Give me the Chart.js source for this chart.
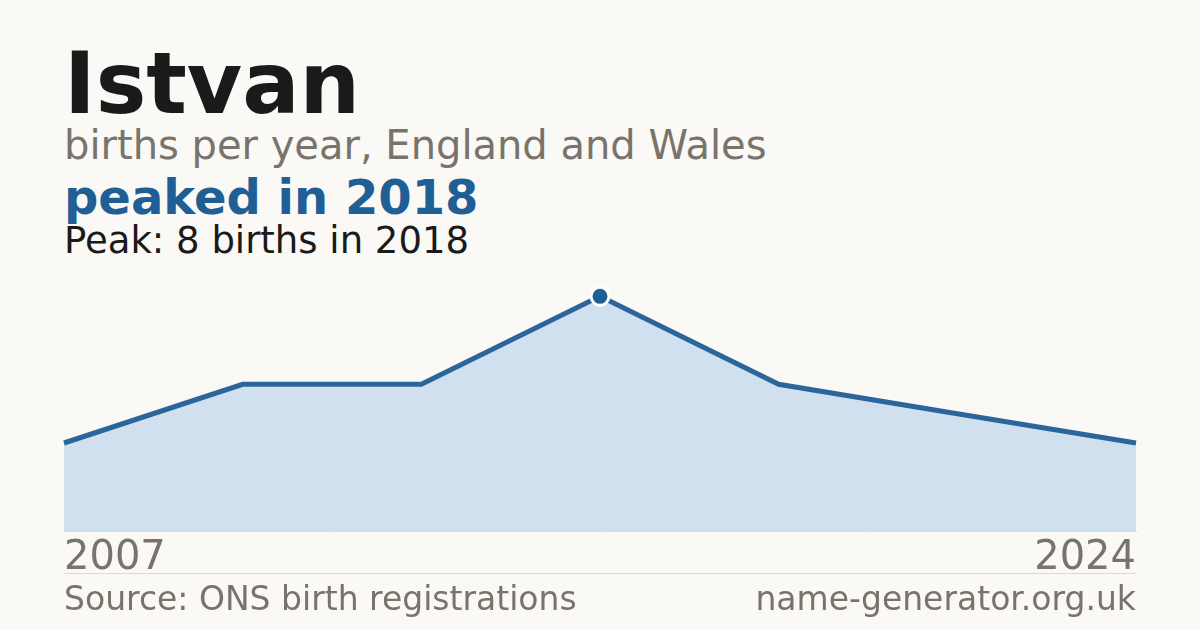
<!DOCTYPE html>
<html>
<head>
<meta charset="utf-8">
<script src="https://cdn.jsdelivr.net/npm/chart.js@4"></script>
<style>
  html, body { margin: 0; padding: 0; }
  body { width: 1200px; height: 630px; background: #faf9f5; position: relative; overflow: hidden; font-family: "DejaVu Sans", sans-serif; }
  .txt { position: absolute; left: 64px; line-height: 1; white-space: nowrap; }
  #title { top: 41px; font-size: 85px; font-weight: bold; color: #1a1a1a; }
  #sub { top: 125px; font-size: 40px; color: #78746c; }
  #peaked { top: 173px; font-size: 48px; font-weight: bold; color: #1f5f96; }
  #note { top: 222px; font-size: 37px; color: #1a1a1a; }
  #rule { position: absolute; left: 64px; top: 573px; width: 1072px; height: 1px; background: #dcdad4; }
  .foot { top: 582px; font-size: 33px; color: #78746c; }
  #site { left: auto; right: 64px; }
  #chart { position: absolute; left: 0; top: 0; }
</style>
</head>
<body>
<div class="txt" id="title">Istvan</div>
<div class="txt" id="sub">births per year, England and Wales</div>
<div class="txt" id="peaked">peaked in 2018</div>
<div class="txt" id="note">Peak: 8 births in 2018</div>
<canvas id="chart" width="1200" height="630"></canvas>
<div id="rule"></div>
<div class="txt foot">Source: ONS birth registrations</div>
<div class="txt foot" id="site">name-generator.org.uk</div>
<script>
// years that have registrations, and the count for each
const years = ['2007', '2011', '2015', '2018', '2020', '2022', '2024'];
const births = [3, 5, 5, 8, 5, 4, 3];
const tickYears = ['2007', '2024'];

const peak = Math.max(...births);

const ctx = document.getElementById('chart').getContext('2d');
const myChart = new Chart(ctx, {
    type: 'line',
    data: {
        labels: years,
        datasets: [{
            data: births,
            borderColor: '#2a669b',
            borderWidth: 5,
            backgroundColor: '#d0e0ef',
            fill: 'origin',
            tension: 0,
            pointRadius: c => c.raw === peak ? 9 : 0,
            pointHoverRadius: c => c.raw === peak ? 9 : 0,
            pointBackgroundColor: '#1f5f96',
            pointBorderColor: '#ffffff',
            pointBorderWidth: 3
        }]
    },
    options: {
        responsive: false,
        animation: false,
        clip: false,
        layout: {
            padding: { left: 64, right: 64, top: 267, bottom: 43 }
        },
        plugins: {
            legend: { display: false },
            tooltip: { enabled: false }
        },
        scales: {
            x: {
                grid: { display: false, drawTicks: false },
                border: { display: true, color: '#dcdad4', width: 1 },
                ticks: {
                    autoSkip: false,
                    maxRotation: 0,
                    align: 'inner',
                    padding: 4,
                    color: '#78746c',
                    font: { family: 'DejaVu Sans', size: 40 },
                    callback: function (val) {
                        const lab = this.getLabelForValue(val);
                        return tickYears.includes(lab) ? lab : '';
                    }
                }
            },
            y: {
                display: false,
                min: 0,
                max: 9
            }
        }
    }
});
</script>
</body>
</html>
